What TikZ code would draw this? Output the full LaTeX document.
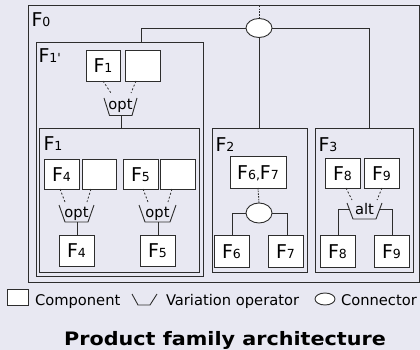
\documentclass[tikz,border=0pt]{standalone}
\usepackage{fontspec}
\setmainfont{DejaVu Sans}
\usetikzlibrary{shapes.geometric,fit}
\definecolor{bg}{RGB}{232,232,242}
\definecolor{ln}{RGB}{45,45,45}
\newcommand\Fx[1]{{\fontsize{19}{19}\selectfont F}{\fontsize{12.5}{12.5}\selectfont #1}}
\newcommand\lab[2]{\path (#1.center) ++(0,7) node[anchor=base] (#1t) {#2};}
\begin{document}
\begin{tikzpicture}[x=1pt,y=-1pt,
  every node/.style={inner sep=0pt, outer sep=0pt},
  font=\fontsize{14.7}{16}\selectfont,
  comp/.style={draw=ln, fill=white, line width=0.9pt},
  grp/.style={draw=ln, line width=1pt},
  conn/.style={draw=ln, fill=white, ellipse, line width=0.9pt},
  wire/.style={draw=ln, line width=0.9pt},
  dsh/.style={draw=ln, line width=0.8pt, dash pattern=on 2pt off 2pt},
  dot/.style={draw=ln, line width=0.9pt, dash pattern=on 1.5pt off 1.2pt},
  lbl/.style={anchor=base west}]
\fill[bg] (0,0) rectangle (420,350);
\useasboundingbox (0,0) rectangle (420,350);

% groups
\node[grp, fit={(28,6)(419,282)}] (F0) {};
\node[lbl] (F0l) at (31.5,27) {\Fx{0}};
\node[grp, fit={(36,43)(203,276)}] (F1p) {};
\node[lbl] (F1pl) at (38.5,63) {\Fx{1\textquotesingle}};
\node[grp, fit={(39,129)(199,272)}] (F1) {};
\node[lbl] (F1l) at (43.5,150) {\Fx{1}};
\node[grp, fit={(212,129)(307,272)}] (F2) {};
\node[lbl] (F2l) at (215.5,151) {\Fx{2}};
\node[grp, fit={(315,129)(413,272)}] (F3) {};
\node[lbl] (F3l) at (318.5,151) {\Fx{3}};

% top connector
\node[conn, minimum width=26, minimum height=19] (c0) at (259,28) {};
\coordinate (top) at (259,6);
\draw[dot] (top) -- (c0.north);
\draw[wire] (c0.west) -- (141,28) -- (141,43);
\draw[wire] (c0.east) -- (369,28) -- (369,129);
\draw[wire] (c0.south) -- (259,129);

% F1' content
\node[comp, fit={(86,50)(120,81)}] (a1) {}; \lab{a1}{\Fx{1}}
\node[comp, fit={(125,50)(160,81)}] (a2) {};
\draw[dsh] (103,81) -- (111,93);
\draw[dsh] (136,81) -- (131,93);
\node[anchor=base] (op0) at (120.5,110) {opt};
\draw[wire] (104,98) -- (109.5,115.5) -- (132,115.5) -- (137,98);
\draw[wire] (121,115.5) -- (121,129);

% F1 content
\node[comp, fit={(44,159)(79,189)}] (b1) {}; \lab{b1}{\Fx{4}}
\node[comp, fit={(82,159)(116,189)}] (b2) {};
\node[comp, fit={(123,159)(158,189)}] (b3) {}; \lab{b3}{\Fx{5}}
\node[comp, fit={(160,159)(195,189)}] (b4) {};
\draw[dsh] (60,189) -- (65,202);
\draw[dsh] (91,189) -- (87,202);
\draw[dsh] (143,189) -- (148,202);
\draw[dsh] (172,189) -- (168,202);
\node[anchor=base] (op1) at (76.5,217) {opt};
\draw[wire] (59,205) -- (65,222) -- (88,222) -- (94,205);
\node[anchor=base] (op2) at (157.5,217) {opt};
\draw[wire] (139,205) -- (145,222) -- (170,222) -- (176,205);
\node[comp, fit={(59,235)(94,266)}] (d1) {}; \lab{d1}{\Fx{4}}
\node[comp, fit={(140,235)(175,266)}] (d2) {}; \lab{d2}{\Fx{5}}
\draw[wire] (77,222) -- (77,235);
\draw[wire] (158,222) -- (158,235);

% F2 content
\node[comp, fit={(230,156)(286,188)}] (e1) {}; \lab{e1}{\Fx{6,}\Fx{7}}
\node[conn, minimum width=26, minimum height=20] (c1) at (259,213) {};
\draw[dot] (e1.south) -- (c1.north);
\node[comp, fit={(214,235)(249,267)}] (e2) {}; \lab{e2}{\Fx{6}}
\node[comp, fit={(268,235)(303,267)}] (e3) {}; \lab{e3}{\Fx{7}}
\draw[wire] (c1.west) -- (232,213) -- (232,235);
\draw[wire] (c1.east) -- (287,213) -- (287,235);

% F3 content
\node[comp, fit={(325,158)(360,188)}] (g1) {}; \lab{g1}{\Fx{8}}
\node[comp, fit={(364,158)(399,188)}] (g2) {}; \lab{g2}{\Fx{9}}
\draw[dsh] (346,188) -- (352,200);
\draw[dsh] (382,188) -- (377,200);
\node[anchor=base] (op3) at (364.5,214) {alt};
\draw[wire] (347,203) -- (353,219) -- (376,219) -- (382,203);
\node[comp, fit={(320,235)(355,267)}] (h1) {}; \lab{h1}{\Fx{8}}
\node[comp, fit={(374,235)(409,267)}] (h2) {}; \lab{h2}{\Fx{9}}
\draw[wire] (349.3,209) -- (338,209) -- (338,235);
\draw[wire] (379.7,209) -- (392,209) -- (392,235);

% legend
\node[comp, fit={(7,289)(28,305)}] (lg1) {};
\node[lbl] (lt1) at (35,305) {Component};
\draw[wire] (132,294) -- (138,305) -- (150,305) -- (157,294);
\node[lbl] (lt2) at (166,305) {Variation operator};
\node[conn, minimum width=20, minimum height=12] (lg3) at (325,299) {};
\node[lbl] (lt3) at (341,305) {Connector};

% title
\node[anchor=base] (title) at (225,345) {\scalebox{1.12}[1]{\fontsize{18.5}{20}\selectfont\bfseries Product family architecture}};
\end{tikzpicture}
\end{document}
